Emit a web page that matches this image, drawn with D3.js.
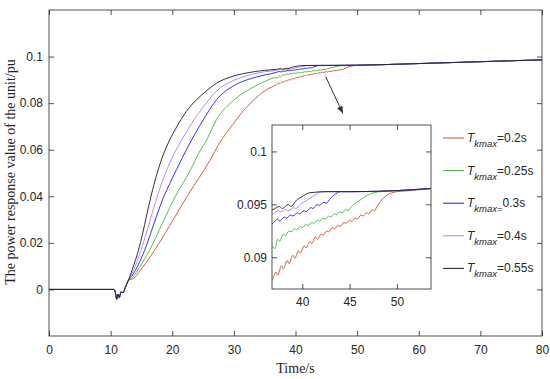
<!DOCTYPE html>
<html>
<head>
<meta charset="utf-8">
<script src="https://cdn.jsdelivr.net/npm/d3@7"></script>
<style>
  body { margin: 0; background: #fff; }
  svg { display: block; }
</style>
</head>
<body>
<svg id="chart" width="550" height="379"></svg>
<script>
// ---- data: [time (s), power response (pu)] ----
const commonStart = [
    [0, 0], [10.5, 0], [10.7, -0.0005], [11.0, -0.0042], [11.2, -0.002],
    [11.4, -0.0035], [11.7, -0.001], [12.0, -0.0015], [12.4, 0.001], [12.9, 0.004]
];
const commonTail = [[53.6, 0.0965], [55, 0.0966], [60, 0.0970], [70, 0.0978], [80, 0.0986]];

const tk020 = [
    [13.6, 0.0045], [15.2, 0.0095], [17.1, 0.0167], [19.5, 0.027], [21.5, 0.036],
    [23.5, 0.0445], [25.1, 0.051], [26.1, 0.0554], [27.7, 0.063], [29.9, 0.0711],
    [31.2, 0.0757], [32.6, 0.0797], [34.0, 0.0832], [35.3, 0.0858],
    [36.9, 0.0880], [37.2, 0.0886], [37.4, 0.0883], [37.8, 0.0892], [38.0, 0.0889],
    [38.4, 0.0897], [38.6, 0.0894], [39.0, 0.0902], [39.2, 0.0899], [39.6, 0.0906],
    [39.8, 0.0904], [40.2, 0.0911], [40.4, 0.0909], [40.8, 0.0915], [41.0, 0.0913],
    [41.4, 0.0919], [41.6, 0.0917], [42.0, 0.0922], [42.2, 0.0921], [42.6, 0.0925],
    [42.8, 0.0924], [43.2, 0.0928], [43.4, 0.0927], [43.8, 0.0930], [44.0, 0.0929],
    [44.4, 0.0933], [44.6, 0.0932], [45.0, 0.0935], [45.2, 0.0934], [45.6, 0.0937],
    [45.8, 0.0936], [46.2, 0.0940], [46.4, 0.0939], [46.8, 0.0942], [47.0, 0.0941],
    [47.4, 0.0945], [47.6, 0.0944], [47.9, 0.0948], [48.3, 0.0953], [48.7, 0.0957],
    [49.2, 0.0960], [50.0, 0.0962], [51.5, 0.0963]
];
const tk025 = [
    [13.5, 0.005], [14.8, 0.010], [16.3, 0.0167], [18.5, 0.029], [20.5, 0.040],
    [22.9, 0.051], [24.5, 0.0595], [25.3, 0.0628], [27.2, 0.0730], [29.9, 0.0811],
    [32.6, 0.0861], [35.0, 0.0893],
    [36.9, 0.0910], [37.1, 0.0908], [37.4, 0.0917], [37.6, 0.0915], [38.0, 0.0922],
    [38.2, 0.0920], [38.6, 0.0925], [38.8, 0.0924], [39.2, 0.0927], [39.4, 0.0926],
    [39.8, 0.0929], [40.0, 0.0928], [40.4, 0.0931], [40.6, 0.0930], [41.0, 0.0933],
    [41.2, 0.0932], [41.6, 0.0935], [41.8, 0.0934], [42.2, 0.0937], [42.4, 0.0936],
    [42.8, 0.0939], [43.0, 0.0938], [43.4, 0.0941], [43.6, 0.0940], [44.0, 0.0943],
    [44.2, 0.0942], [44.6, 0.0945], [44.8, 0.0944], [45.2, 0.0948], [45.6, 0.0951],
    [46.1, 0.0954], [46.6, 0.0957], [47.2, 0.0960], [48.2, 0.0962], [50.0, 0.0963]
];
const tk030 = [
    [13.5, 0.006], [15.5, 0.0167], [17.0, 0.028], [18.5, 0.039], [19.6, 0.0455],
    [20.7, 0.0515], [22.6, 0.0615], [24.5, 0.0705], [25.3, 0.0740], [27.2, 0.0815],
    [29.9, 0.0874], [32.6, 0.0904], [35.0, 0.0921],
    [36.9, 0.0932], [37.4, 0.0936], [37.6, 0.0934], [38.1, 0.0938], [38.3, 0.0937],
    [38.8, 0.0940], [39.0, 0.0939], [39.5, 0.0942], [39.7, 0.0941], [40.2, 0.0944],
    [40.4, 0.0943], [40.9, 0.0947], [41.1, 0.0946], [41.6, 0.0950], [41.8, 0.0949],
    [42.3, 0.0952], [42.5, 0.0951], [43.0, 0.0956], [43.4, 0.0959], [44.0, 0.0962],
    [46.0, 0.0962], [50.0, 0.0963]
];
const tk040 = [
    [13.5, 0.007], [14.9, 0.0167], [16.0, 0.026], [17.0, 0.035], [18.0, 0.0435],
    [19.0, 0.0505], [20.2, 0.0578], [21.5, 0.0640], [23.7, 0.0735], [25.0, 0.0782],
    [27.2, 0.0853], [29.9, 0.0897], [32.6, 0.0921], [35.0, 0.0935],
    [36.9, 0.0941], [37.5, 0.0944], [37.7, 0.0943], [38.3, 0.0945], [38.5, 0.0944],
    [39.1, 0.0947], [39.3, 0.0946], [39.8, 0.0950], [40.5, 0.0954], [41.2, 0.0958],
    [42.1, 0.0962], [45.0, 0.0962], [50.0, 0.0963]
];
const tk055 = [
    [13.5, 0.0085], [14.5, 0.0167], [15.2, 0.024], [15.85, 0.0320], [16.6, 0.0405],
    [17.5, 0.0495], [18.5, 0.0575], [19.6, 0.0643], [20.7, 0.0697], [22.3, 0.0765],
    [24.0, 0.0816], [25.3, 0.0847], [27.2, 0.0886], [29.9, 0.0916], [32.6, 0.0932],
    [35.0, 0.0941],
    [36.9, 0.0945], [37.6, 0.0948], [37.9, 0.0946], [38.5, 0.0950], [38.8, 0.0948],
    [39.4, 0.0954], [40.1, 0.0958], [40.8, 0.0961], [42.6, 0.0962], [45.0, 0.0962],
    [50.0, 0.0963]
];

const seriesData = [tk020, tk025, tk030, tk040, tk055];
const legendSub = ["kmax", "kmax", "kmax=", "kmax", "kmax"];
const legendRest = ["=0.2s", "=0.25s", "0.3s", "=0.4s", "=0.55s"];
const colors = ["#c9502f", "#3fb83f", "#1e1ee6", "#b27cf2", "#1a1a1a"];

const xTicks = [0, 10, 20, 30, 40, 50, 60, 70, 80];
const yTicks = [0, 0.02, 0.04, 0.06, 0.08, 0.1];
const insetXTicks = [40, 45, 50];
const insetYTicks = [0.09, 0.095, 0.1];

// ---- layout ----
const svg = d3.select("#chart");
const axisColor = "#262626";
const tickFont = "Liberation Sans, Arial, sans-serif";
const serifFont = "Liberation Serif, Times New Roman, serif";

const x = d3.scaleLinear().domain([0, 80]).range([49, 542]);
const y = d3.scaleLinear().domain([-0.02, 0.12]).range([336, 10]);
const xi = d3.scaleLinear().domain([36.8, 53.6]).range([272, 431]);
const yi = d3.scaleLinear().domain([0.087, 0.1025]).range([289, 125]);

const fullSeries = seriesData.map(s => commonStart.concat(s, commonTail));

const defs = svg.append("defs");
defs.append("clipPath").attr("id", "clipMain")
    .append("rect").attr("x", 49).attr("y", 10).attr("width", 493).attr("height", 326);
defs.append("clipPath").attr("id", "clipInset")
    .append("rect").attr("x", 272).attr("y", 125).attr("width", 159).attr("height", 164);

svg.append("rect").attr("width", 550).attr("height", 379).attr("fill", "#fff");

// Main curves
const mainLine = d3.line().x(d => x(d[0])).y(d => y(d[1])).curve(d3.curveMonotoneX);
svg.append("g").attr("clip-path", "url(#clipMain)")
    .selectAll("path")
    .data(fullSeries)
    .enter().append("path")
    .attr("d", mainLine)
    .attr("fill", "none")
    .attr("stroke", (d, i) => colors[i])
    .attr("stroke-width", 0.9);

// Axes helper (ticks point inward, MATLAB style)
function drawAxis(axis, tx, ty, showLabels, padding) {
    const g = svg.append("g")
        .attr("transform", `translate(${tx},${ty})`)
        .call(axis.tickSizeInner(-5).tickSizeOuter(0).tickPadding(padding));
    g.select(".domain").remove();
    g.selectAll("line").attr("stroke", axisColor).attr("stroke-width", 0.8);
    g.selectAll("text")
        .attr("fill", axisColor)
        .style("font-family", tickFont)
        .style("font-size", "12px");
    if (!showLabels) g.selectAll("text").remove();
    return g;
}

const fmt = d => d === 0 ? "0" : String(+d.toFixed(3));

drawAxis(d3.axisBottom(x).tickValues(xTicks).tickFormat(fmt), 0, 336, true, 9);
drawAxis(d3.axisTop(x).tickValues(xTicks), 0, 10, false, 3);
drawAxis(d3.axisLeft(y).tickValues(yTicks).tickFormat(fmt), 49, 0, true, 6);
drawAxis(d3.axisRight(y).tickValues(yTicks), 542, 0, false, 3);

svg.append("rect")
    .attr("x", 49).attr("y", 10).attr("width", 493).attr("height", 326)
    .attr("fill", "none").attr("stroke", axisColor).attr("stroke-width", 0.8);

// Inset
svg.append("rect")
    .attr("x", 272).attr("y", 125).attr("width", 159).attr("height", 164)
    .attr("fill", "#fff");

const insetLine = d3.line().x(d => xi(d[0])).y(d => yi(d[1])).curve(d3.curveMonotoneX);
svg.append("g").attr("clip-path", "url(#clipInset)")
    .selectAll("path")
    .data(fullSeries)
    .enter().append("path")
    .attr("d", insetLine)
    .attr("fill", "none")
    .attr("stroke", (d, i) => colors[i])
    .attr("stroke-width", 0.9);

drawAxis(d3.axisBottom(xi).tickValues(insetXTicks).tickFormat(fmt), 0, 289, true, 8);
drawAxis(d3.axisTop(xi).tickValues(insetXTicks), 0, 125, false, 3);
drawAxis(d3.axisLeft(yi).tickValues(insetYTicks).tickFormat(fmt), 272, 0, true, 5);
drawAxis(d3.axisRight(yi).tickValues(insetYTicks), 431, 0, false, 3);

svg.append("rect")
    .attr("x", 272).attr("y", 125).attr("width", 159).attr("height", 164)
    .attr("fill", "none").attr("stroke", axisColor).attr("stroke-width", 0.8);

// Arrow pointing to the zoomed region
const arrowFrom = [44.9, 0.0914];
const arrowTo = [47.7, 0.0755];
const ax1 = x(arrowFrom[0]), ay1 = y(arrowFrom[1]);
const ax2 = x(arrowTo[0]), ay2 = y(arrowTo[1]);
svg.append("line")
    .attr("x1", ax1).attr("y1", ay1).attr("x2", ax2).attr("y2", ay2)
    .attr("stroke", "#333").attr("stroke-width", 1);
const ang = Math.atan2(ay2 - ay1, ax2 - ax1);
const headLen = 8, headW = 0.38;
svg.append("path")
    .attr("d", `M${ax2},${ay2}` +
        `L${ax2 - headLen * Math.cos(ang - headW)},${ay2 - headLen * Math.sin(ang - headW)}` +
        `L${ax2 - headLen * Math.cos(ang + headW)},${ay2 - headLen * Math.sin(ang + headW)}Z`)
    .attr("fill", "#333");

// Legend
const legend = svg.append("g");
legendRest.forEach((rest, i) => {
    const ly = 138 + i * 32.6;
    legend.append("line")
        .attr("x1", 443).attr("x2", 464).attr("y1", ly).attr("y2", ly)
        .attr("stroke", colors[i]).attr("stroke-width", 1);
    const t = legend.append("text")
        .attr("x", 467).attr("y", ly + 4)
        .attr("fill", axisColor)
        .style("font-family", tickFont)
        .style("font-size", "12px");
    t.append("tspan").style("font-style", "italic").text("T");
    t.append("tspan").attr("dy", 5).style("font-style", "italic")
        .style("font-size", "9.5px").text(legendSub[i]);
    t.append("tspan").attr("dy", -5).text(rest);
});

// Axis titles
svg.append("text")
    .attr("x", 295.5).attr("y", 373)
    .attr("text-anchor", "middle")
    .attr("fill", axisColor)
    .style("font-family", serifFont)
    .style("font-size", "14px")
    .text("Time/s");

svg.append("text")
    .attr("transform", "translate(15,172) rotate(-90)")
    .attr("text-anchor", "middle")
    .attr("fill", axisColor)
    .style("font-family", serifFont)
    .style("font-size", "14px")
    .text("The power response value of the unit/pu");
</script>
</body>
</html>
